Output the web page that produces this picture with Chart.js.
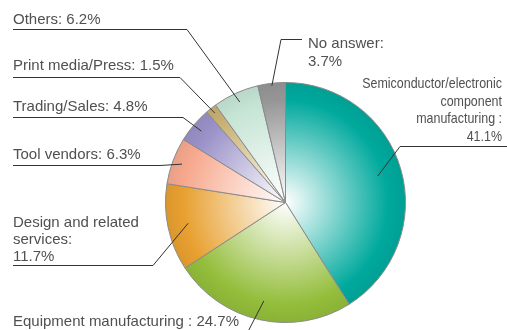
<!DOCTYPE html>
<html>
<head>
<meta charset="utf-8">
<script src="https://cdn.jsdelivr.net/npm/chart.js@4/dist/chart.umd.min.js"></script>
<style>
  html, body { margin: 0; padding: 0; background: #fff; }
  #wrap { width: 507px; height: 330px; }
</style>
</head>
<body>
<div id="wrap"><canvas id="pie"></canvas></div>
<script>
// Data
const categories = [
  'Semiconductor/electronic component manufacturing',
  'Equipment manufacturing',
  'Design and related services',
  'Tool vendors',
  'Trading/Sales',
  'Print media/Press',
  'Others',
  'No answer'
];
const shares = [41.1, 24.7, 11.7, 6.3, 4.8, 1.5, 6.2, 3.7];
const labelText = [
  'Semiconductor/electronic\ncomponent\nmanufacturing :\n{v}%',
  'Equipment manufacturing : {v}%',
  'Design and related\nservices:\n{v}%',
  'Tool vendors: {v}%',
  'Trading/Sales: {v}%',
  'Print media/Press: {v}%',
  'Others: {v}%',
  'No answer:\n{v}%'
];
const sliceColors = ['#00a99d', '#93bd3a', '#e8a030', '#f7a98f', '#9a92c8', '#c8b072', '#c5e4d4', '#969696'];

// Where each label and its leader line sit
const callouts = [
  { x: 502, y: 88, align: 'right', squeeze: 0.83, lineH: 17.5, path: [[507, 146.5], [400, 146.5]], r: 0.8 },
  { x: 13, y: 326, path: [[13, 333.5], [247, 333.5]], r: 0.84 },
  { x: 13, y: 227, lineH: 17, path: [[13, 265.5], [153, 265.5]], r: 0.83 },
  { x: 13, y: 159, path: [[13, 165.5], [160, 165.5]], r: 0.92 },
  { x: 13, y: 111, path: [[13, 117.5], [183, 117.5]], r: 0.92 },
  { x: 13, y: 70, path: [[13, 77.5], [180, 77.5]], r: 0.95 },
  { x: 13, y: 23.5, path: [[13, 29.5], [187, 29.5]], r: 0.92 },
  { x: 308, y: 48, lineH: 17.5, path: [[302, 39.5], [281, 39.5]], r: 0.98 }
];

function shade(hex, f) {
  const n = parseInt(hex.slice(1), 16);
  const r = Math.round(((n >> 16) & 255) * f);
  const g = Math.round(((n >> 8) & 255) * f);
  const b = Math.round((n & 255) * f);
  return `rgb(${r},${g},${b})`;
}

// Radial white-to-colour fill for each slice
function sliceFill(context) {
  const chart = context.chart;
  const area = chart.chartArea;
  const base = sliceColors[context.dataIndex];
  if (!area) return base;
  const cx = (area.left + area.right) / 2;
  const cy = (area.top + area.bottom) / 2;
  const rad = Math.min(area.right - area.left, area.bottom - area.top) / 2;
  const grad = chart.ctx.createRadialGradient(cx, cy, 0, cx, cy, rad);
  grad.addColorStop(0, '#ffffff');
  grad.addColorStop(0.85, base);
  grad.addColorStop(1, shade(base, 0.94));
  return grad;
}

const calloutPlugin = {
  id: 'callouts',
  afterDraw(chart) {
    const ctx = chart.ctx;
    const arcs = chart.getDatasetMeta(0).data;
    ctx.save();
    arcs.forEach((arc, i) => {
      const c = callouts[i];
      const p = arc.getProps(['x', 'y', 'startAngle', 'endAngle', 'outerRadius'], true);
      const mid = (p.startAngle + p.endAngle) / 2;
      const ex = p.x + Math.cos(mid) * p.outerRadius * c.r;
      const ey = p.y + Math.sin(mid) * p.outerRadius * c.r;

      // leader line
      ctx.strokeStyle = '#333';
      ctx.lineWidth = 1;
      ctx.beginPath();
      ctx.moveTo(c.path[0][0], c.path[0][1]);
      for (let k = 1; k < c.path.length; k++) ctx.lineTo(c.path[k][0], c.path[k][1]);
      ctx.lineTo(ex, ey);
      ctx.stroke();

      // label text
      const lines = labelText[i].replace('{v}', shares[i].toFixed(1)).split('\n');
      ctx.fillStyle = '#505050';
      ctx.font = '15px "Liberation Sans", Arial, sans-serif';
      ctx.textBaseline = 'alphabetic';
      ctx.textAlign = c.align || 'left';
      lines.forEach((line, j) => {
        const y = c.y + j * (c.lineH || 17);
        if (c.squeeze) {
          ctx.save();
          ctx.translate(c.x, y);
          ctx.scale(c.squeeze, 1);
          ctx.fillText(line, 0, 0);
          ctx.restore();
        } else {
          ctx.fillText(line, c.x, y);
        }
      });
    });
    ctx.restore();
  }
};

new Chart(document.getElementById('pie'), {
  type: 'pie',
  data: {
    labels: categories,
    datasets: [{
      data: shares,
      backgroundColor: sliceFill,
      borderColor: '#8a8a8a',
      borderWidth: 1
    }]
  },
  options: {
    responsive: true,
    maintainAspectRatio: false,
    animation: false,
    layout: { padding: { left: 165, right: 101, top: 82, bottom: 7 } },
    plugins: {
      legend: { display: false },
      tooltip: { enabled: false }
    }
  },
  plugins: [calloutPlugin]
});
</script>
</body>
</html>
